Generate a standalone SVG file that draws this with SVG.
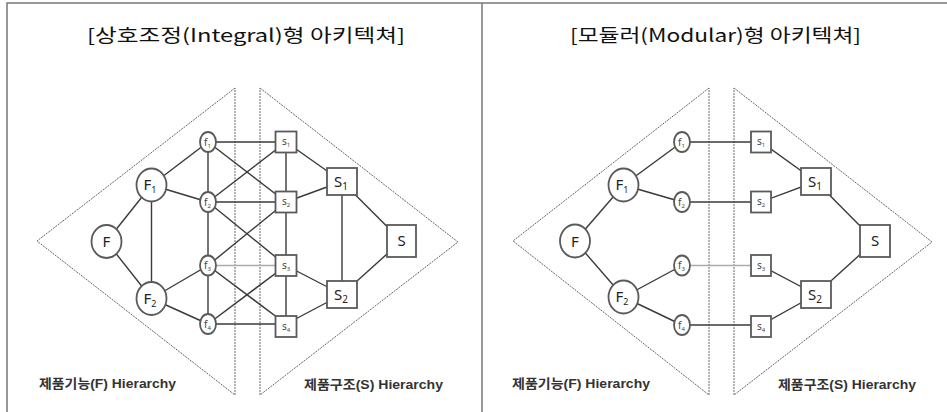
<svg xmlns="http://www.w3.org/2000/svg" width="947" height="412" viewBox="0 0 947 412">
<style>
.frame{stroke:#777;stroke-width:1.5;fill:none}
.tri{stroke:#666;stroke-width:1;stroke-dasharray:2 1;fill:none}
.e{stroke:#3a3a3a;stroke-width:1.4;fill:none}
.el{stroke:#aaa;stroke-width:1.3;fill:none}
.c{fill:#fff;stroke:#5a5a5a;stroke-width:1.8}
.b{fill:#fff;stroke:#5a5a5a;stroke-width:1.8}
.big{font-family:"Noto Sans","Liberation Sans",sans-serif;font-size:15px;fill:#222;text-anchor:middle}
.sm{font-family:"Noto Sans","Liberation Sans",sans-serif;font-size:10px;fill:#444;text-anchor:middle}
.title{font-family:"Noto Sans CJK KR","Liberation Sans",sans-serif;font-size:18px;font-weight:400;fill:#111}
.lab{font-family:"Liberation Sans","Noto Sans CJK KR",sans-serif;font-size:13px;font-weight:bold;fill:#333}
</style>
<rect width="947" height="412" fill="#fff"/>
<g id="frame">
<path class="frame" d="M7,412 V3 H947 M482,3 V412"/>
</g>
<g id="titles">
<text class="title" x="87" y="42" textLength="318" lengthAdjust="spacingAndGlyphs">[상호조정(Integral)형 아키텍쳐]</text>
<text class="title" x="570" y="42" textLength="291" lengthAdjust="spacingAndGlyphs">[모듈러(Modular)형 아키텍쳐]</text>
</g>
<g id="hierarchies">
<path class="tri" d="M235,88 L37,241 L235,395 Z"/>
<path class="tri" d="M260,88 L458,242 L260,395 Z"/>
<path class="tri" d="M709,88 L513,241 L709,395 Z"/>
<path class="tri" d="M734,88 L932,242 L734,395 Z"/>
</g>
<g id="connectors">
<!-- left panel -->
<line class="e" x1="106.5" y1="241.5" x2="151.5" y2="185"/>
<line class="e" x1="106.5" y1="241.5" x2="151.5" y2="298.5"/>
<line class="e" x1="151.5" y1="185" x2="151.5" y2="298.5"/>
<line class="e" x1="151.5" y1="185" x2="208" y2="142"/>
<line class="e" x1="151.5" y1="185" x2="208" y2="202"/>
<line class="e" x1="151.5" y1="298.5" x2="208" y2="265.5"/>
<line class="e" x1="151.5" y1="298.5" x2="208" y2="324"/>
<line class="e" x1="208" y1="142" x2="208" y2="324"/>
<line class="e" x1="208" y1="142" x2="286" y2="142"/>
<line class="e" x1="208" y1="202" x2="286" y2="202"/>
<line class="el" x1="208" y1="265.5" x2="286" y2="265.5"/>
<line class="e" x1="208" y1="324" x2="286" y2="324"/>
<line class="e" x1="208" y1="142" x2="286" y2="202"/>
<line class="e" x1="208" y1="202" x2="286" y2="142"/>
<line class="e" x1="208" y1="202" x2="286" y2="265.5"/>
<line class="e" x1="208" y1="265.5" x2="286" y2="202"/>
<line class="e" x1="208" y1="265.5" x2="286" y2="324"/>
<line class="e" x1="208" y1="324" x2="286" y2="265.5"/>
<line class="e" x1="286" y1="142" x2="286" y2="324"/>
<line class="e" x1="286" y1="142" x2="342" y2="181.5"/>
<line class="e" x1="286" y1="202" x2="342" y2="181.5"/>
<line class="e" x1="286" y1="265.5" x2="342" y2="294.5"/>
<line class="e" x1="286" y1="324" x2="342" y2="294.5"/>
<line class="e" x1="342" y1="181.5" x2="342" y2="294.5"/>
<line class="e" x1="342" y1="181.5" x2="401.5" y2="241"/>
<line class="e" x1="342" y1="294.5" x2="401.5" y2="241"/>
<!-- right panel -->
<line class="e" x1="575" y1="241" x2="623.5" y2="185"/>
<line class="e" x1="575" y1="241" x2="623.5" y2="297"/>
<line class="e" x1="623.5" y1="185" x2="682" y2="142"/>
<line class="e" x1="623.5" y1="185" x2="682" y2="202"/>
<line class="e" x1="623.5" y1="297" x2="682" y2="265.5"/>
<line class="e" x1="623.5" y1="297" x2="682" y2="325"/>
<line class="e" x1="682" y1="142" x2="761" y2="142"/>
<line class="e" x1="682" y1="202" x2="761" y2="202"/>
<line class="el" x1="682" y1="265.5" x2="761" y2="265.5"/>
<line class="e" x1="682" y1="325" x2="761" y2="325"/>
<line class="e" x1="761" y1="142" x2="816" y2="181.5"/>
<line class="e" x1="761" y1="202" x2="816" y2="181.5"/>
<line class="e" x1="761" y1="265.5" x2="816" y2="294.5"/>
<line class="e" x1="761" y1="325" x2="816" y2="294.5"/>
<line class="e" x1="816" y1="181.5" x2="875" y2="241"/>
<line class="e" x1="816" y1="294.5" x2="875" y2="241"/>
</g>
<!-- left panel nodes -->
<g id="L-F"><ellipse class="c" cx="106.5" cy="241.5" rx="15" ry="16.5"/><text class="big" x="106.5" y="247">F</text></g>
<g id="L-F1"><ellipse class="c" cx="151.5" cy="185" rx="15" ry="16.5"/><text class="big" x="150" y="190">F<tspan font-size="9" dy="3">1</tspan></text></g>
<g id="L-F2"><ellipse class="c" cx="151.5" cy="298.5" rx="15" ry="16.5"/><text class="big" x="150" y="303.5">F<tspan font-size="9" dy="3">2</tspan></text></g>
<g id="L-f1"><ellipse class="c" cx="208" cy="142" rx="8" ry="10"/><text class="sm" x="207.5" y="145.5">f<tspan font-size="6" dy="2">1</tspan></text></g>
<g id="L-f2"><ellipse class="c" cx="208" cy="202" rx="8" ry="10"/><text class="sm" x="207.5" y="205.5">f<tspan font-size="6" dy="2">2</tspan></text></g>
<g id="L-f3"><ellipse class="c" cx="208" cy="265.5" rx="8" ry="10"/><text class="sm" x="207.5" y="269">f<tspan font-size="6" dy="2">3</tspan></text></g>
<g id="L-f4"><ellipse class="c" cx="208" cy="324" rx="8" ry="10"/><text class="sm" x="207.5" y="327.5">f<tspan font-size="6" dy="2">4</tspan></text></g>
<g id="L-s1"><rect class="b" x="275.5" y="131.5" width="21" height="21"/><text class="sm" x="286" y="145">s<tspan font-size="6" dy="2">1</tspan></text></g>
<g id="L-s2"><rect class="b" x="275.5" y="191.5" width="21" height="21"/><text class="sm" x="286" y="205">s<tspan font-size="6" dy="2">2</tspan></text></g>
<g id="L-s3"><rect class="b" x="275.5" y="255" width="21" height="21"/><text class="sm" x="286" y="268.5">s<tspan font-size="6" dy="2">3</tspan></text></g>
<g id="L-s4"><rect class="b" x="275.5" y="316" width="21" height="21"/><text class="sm" x="286" y="329.5">s<tspan font-size="6" dy="2">4</tspan></text></g>
<g id="L-S1"><rect class="b" x="327" y="168" width="30" height="27"/><text class="big" x="341" y="187">S<tspan font-size="10" dy="3">1</tspan></text></g>
<g id="L-S2"><rect class="b" x="327" y="281" width="30" height="27"/><text class="big" x="341" y="300">S<tspan font-size="10" dy="3">2</tspan></text></g>
<g id="L-S"><rect class="b" x="387" y="225" width="29" height="32"/><text class="big" x="401.5" y="246">S</text></g>
<!-- right panel nodes -->
<g id="R-F"><ellipse class="c" cx="575" cy="241" rx="15" ry="16.5"/><text class="big" x="575" y="246.5">F</text></g>
<g id="R-F1"><ellipse class="c" cx="623.5" cy="185" rx="15" ry="16.5"/><text class="big" x="622" y="190">F<tspan font-size="9" dy="3">1</tspan></text></g>
<g id="R-F2"><ellipse class="c" cx="623.5" cy="297" rx="15" ry="16.5"/><text class="big" x="622" y="302">F<tspan font-size="9" dy="3">2</tspan></text></g>
<g id="R-f1"><ellipse class="c" cx="682" cy="142" rx="8" ry="10"/><text class="sm" x="681.5" y="145.5">f<tspan font-size="6" dy="2">1</tspan></text></g>
<g id="R-f2"><ellipse class="c" cx="682" cy="202" rx="8" ry="10"/><text class="sm" x="681.5" y="205.5">f<tspan font-size="6" dy="2">2</tspan></text></g>
<g id="R-f3"><ellipse class="c" cx="682" cy="265.5" rx="8" ry="10"/><text class="sm" x="681.5" y="269">f<tspan font-size="6" dy="2">3</tspan></text></g>
<g id="R-f4"><ellipse class="c" cx="682" cy="325" rx="8" ry="10"/><text class="sm" x="681.5" y="328.5">f<tspan font-size="6" dy="2">4</tspan></text></g>
<g id="R-s1"><rect class="b" x="751" y="131.5" width="20" height="21"/><text class="sm" x="761" y="145">s<tspan font-size="6" dy="2">1</tspan></text></g>
<g id="R-s2"><rect class="b" x="751" y="191.5" width="20" height="21"/><text class="sm" x="761" y="205">s<tspan font-size="6" dy="2">2</tspan></text></g>
<g id="R-s3"><rect class="b" x="751" y="255" width="20" height="21"/><text class="sm" x="761" y="268.5">s<tspan font-size="6" dy="2">3</tspan></text></g>
<g id="R-s4"><rect class="b" x="751" y="316" width="20" height="21"/><text class="sm" x="761" y="329.5">s<tspan font-size="6" dy="2">4</tspan></text></g>
<g id="R-S1"><rect class="b" x="801" y="168" width="30" height="27"/><text class="big" x="815" y="187">S<tspan font-size="10" dy="3">1</tspan></text></g>
<g id="R-S2"><rect class="b" x="801" y="281" width="30" height="27"/><text class="big" x="815" y="300">S<tspan font-size="10" dy="3">2</tspan></text></g>
<g id="R-S"><rect class="b" x="860" y="225" width="30" height="32"/><text class="big" x="875" y="246">S</text></g>
<g id="labels">
<text class="lab" x="39" y="388" textLength="137" lengthAdjust="spacingAndGlyphs">제품기능(F) Hierarchy</text>
<text class="lab" x="304" y="389" textLength="139" lengthAdjust="spacingAndGlyphs">제품구조(S) Hierarchy</text>
<text class="lab" x="512" y="388" textLength="138" lengthAdjust="spacingAndGlyphs">제품기능(F) Hierarchy</text>
<text class="lab" x="778" y="389" textLength="138" lengthAdjust="spacingAndGlyphs">제품구조(S) Hierarchy</text>
</g>
</svg>
